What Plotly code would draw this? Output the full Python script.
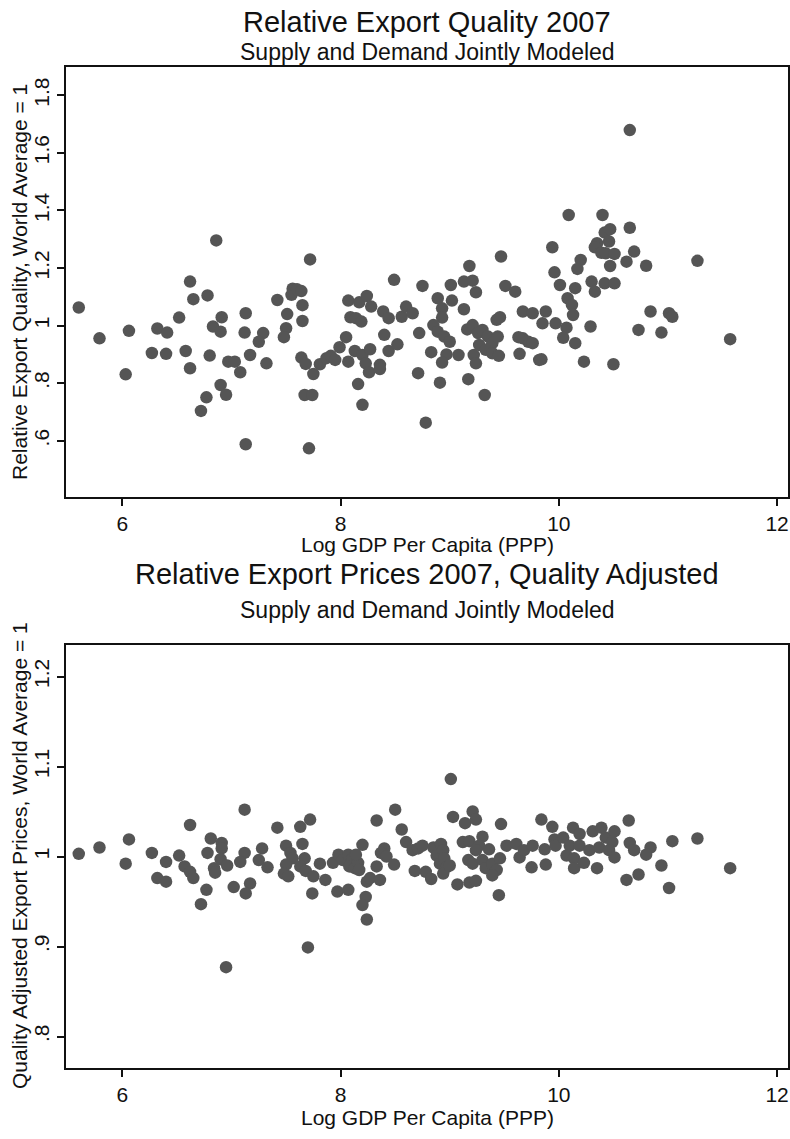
import plotly.graph_objects as go

# ---------------- data ----------------
top_x = [5.60, 5.79, 6.06, 6.03, 6.32, 6.41, 6.27, 6.40, 6.52, 6.62, 6.65, 6.58, 6.62, 6.78, 6.86,
         6.83, 6.90, 6.91, 6.80, 6.97, 7.03, 6.90, 6.95, 6.77, 6.72, 7.13, 7.12, 7.08, 7.17, 7.13,
         7.29, 7.25, 7.32,
         7.42, 7.51, 7.50, 7.48, 7.56, 7.55, 7.60, 7.64, 7.65, 7.65, 7.72, 7.64, 7.68, 7.75, 7.67,
         7.74, 7.71, 7.81, 7.87, 7.91, 7.95, 7.99,
         8.05, 8.07, 8.07, 8.09, 8.14, 8.19, 8.17, 8.24, 8.28, 8.13, 8.20, 8.27, 8.23, 8.26, 8.16,
         8.20, 8.36, 8.36, 8.39, 8.44, 8.40, 8.44, 8.52, 8.49, 8.56, 8.60, 8.66, 8.71, 8.72, 8.75,
         8.78, 8.83, 8.91,
         8.89, 8.93, 8.93, 8.85, 8.89, 8.95, 9.00, 8.97, 8.93, 9.01, 9.02, 9.08, 9.13, 9.18, 9.21,
         9.24, 9.13, 9.16, 9.21, 9.26, 9.22, 9.24, 9.17, 9.32,
         9.30, 9.35, 9.39, 9.44, 9.27, 9.33, 9.39, 9.45, 9.43, 9.46,
         9.47, 9.51, 9.60, 9.67, 9.76, 9.67, 9.72, 9.76, 9.63, 9.64, 9.82,
         10.09, 10.40, 10.42, 10.47, 10.65, 9.94, 10.35, 10.33, 10.39, 10.43, 10.51, 10.46, 10.69,
         10.62, 10.47, 10.80, 11.27, 10.20, 10.17, 9.96, 10.01, 10.15, 10.30, 10.42, 10.51, 10.33,
         10.08, 10.12, 10.13, 9.88, 9.85, 9.97, 10.07, 10.04, 10.29, 10.15, 9.84, 10.23, 10.50,
         10.84, 11.01, 11.04, 10.73, 10.94, 11.57, 10.65]
top_y = [1.063, 0.956, 0.982, 0.831, 0.990, 0.976, 0.905, 0.902, 1.028, 1.153, 1.092, 0.912, 0.852, 1.105, 1.296,
         0.997, 0.979, 1.029, 0.896, 0.875, 0.875, 0.794, 0.760, 0.751, 0.704, 1.043, 0.976, 0.838, 0.898, 0.588,
         0.974, 0.944, 0.869,
         1.089, 1.040, 0.991, 0.960, 1.128, 1.107, 1.126, 1.120, 1.071, 1.016, 1.230, 0.889, 0.867, 0.832, 0.759,
         0.759, 0.574, 0.866, 0.887, 0.895, 0.881, 0.925,
         0.960, 0.875, 1.087, 1.029, 1.026, 1.014, 1.081, 1.103, 1.066, 0.912, 0.898, 0.918, 0.869, 0.838, 0.797,
         0.725, 0.864, 0.849, 1.049, 1.026, 0.968, 0.912, 0.935, 1.159, 1.031, 1.066, 1.043, 0.835, 0.974, 1.138,
         0.663, 0.908, 0.802,
         1.095, 1.060, 1.028, 1.002, 0.979, 0.962, 0.944, 0.900, 0.872, 1.141, 1.087, 0.898, 1.153, 1.207, 1.156,
         1.116, 1.057, 0.987, 1.002, 0.974, 0.898, 0.869, 0.814, 0.759,
         0.985, 0.962, 0.939, 0.962, 0.933, 0.916, 0.904, 0.895, 1.020, 1.029,
         1.240, 1.138, 1.118, 1.049, 1.043, 0.956, 0.944, 0.939, 0.960, 0.902, 0.881,
         1.384, 1.384, 1.323, 1.335, 1.340, 1.272, 1.286, 1.272, 1.253, 1.251, 1.249, 1.292, 1.257,
         1.222, 1.207, 1.208, 1.225, 1.228, 1.197, 1.185, 1.141, 1.130, 1.153, 1.147, 1.147, 1.118,
         1.095, 1.072, 1.037, 1.049, 1.008, 1.008, 0.993, 0.958, 0.997, 0.939, 0.883, 0.875, 0.866,
         1.049, 1.043, 1.031, 0.985, 0.976, 0.953, 1.679]

bot_x = [5.60, 5.79, 6.06, 6.03, 6.27, 6.40, 6.32, 6.40, 6.52, 6.62, 6.57, 6.62, 6.65, 6.72, 6.77,
         6.78, 6.81, 6.91, 6.91, 6.84, 6.85, 6.90, 6.96, 6.95, 7.12, 7.12, 7.08, 7.02, 7.17, 7.13,
         7.28, 7.25, 7.33, 7.42, 7.50, 7.54, 7.56, 7.50, 7.48, 7.52, 7.63, 7.72, 7.65, 7.67, 7.63,
         7.68, 7.75, 7.74, 7.81, 7.86, 7.70, 7.97, 8.07,
         7.93, 7.98, 8.02, 8.07, 8.11, 8.08, 8.13, 8.16, 8.17, 8.14,
         8.20, 8.24, 8.27, 8.23, 8.20, 8.24, 8.33, 8.33, 8.36, 8.40, 8.37, 8.42, 8.49, 8.50, 8.56,
         8.60, 8.66, 8.71, 8.68,
         8.75, 8.78, 8.83, 8.85, 8.88, 8.92, 8.94, 8.91, 8.95, 8.97, 8.94, 9.00, 9.03, 9.01, 9.14,
         9.21, 9.24, 9.12, 9.18, 9.30, 9.27, 9.24, 9.36, 9.17, 9.21, 9.30, 9.33, 9.39, 9.43, 9.46,
         9.39, 9.07, 9.18, 9.24, 9.45, 9.47, 9.52, 9.61, 9.64, 9.68, 9.76, 9.87, 9.75, 9.88, 9.84,
         9.94, 9.96, 9.97, 10.04, 10.13, 10.19, 10.10, 10.07, 10.14, 10.19, 10.14, 10.23, 10.35,
         10.28, 10.31, 10.39, 10.43, 10.51, 10.49, 10.37, 10.46, 10.51, 10.64, 10.65, 10.69, 10.84,
         10.80, 10.94, 11.04, 11.27, 10.62, 10.73, 11.01, 11.57]
bot_y = [1.003, 1.010, 1.019, 0.992, 1.004, 0.994, 0.976, 0.972, 1.001, 1.035, 0.989, 0.983, 0.976, 0.947, 0.963,
         1.004, 1.020, 1.015, 1.009, 0.987, 0.982, 0.997, 0.990, 0.877, 1.052, 1.004, 0.994, 0.966, 0.970, 0.959,
         1.009, 0.996, 0.988, 1.032, 1.012, 1.004, 0.998, 0.991, 0.981, 0.978, 1.033, 1.041, 1.014, 0.998, 0.989,
         0.984, 0.978, 0.959, 0.992, 0.974, 0.899, 0.961, 0.963,
         0.993, 1.002, 0.996, 1.002, 0.998, 0.989, 0.987, 0.993, 0.985, 1.002,
         1.013, 0.972, 0.976, 0.955, 0.946, 0.930, 1.040, 0.989, 0.974, 1.009, 1.004, 1.000, 0.991, 1.052, 1.030,
         1.016, 1.007, 1.009, 0.984,
         1.012, 0.983, 0.975, 1.010, 1.001, 1.014, 1.007, 0.992, 0.998, 0.988, 0.981, 0.990, 1.044, 1.086, 1.037,
         1.050, 1.041, 1.016, 1.017, 1.022, 1.012, 1.007, 1.008, 0.996, 0.992, 0.996, 0.987, 0.992, 0.985, 0.998,
         0.979, 0.969, 0.971, 0.973, 0.957, 1.036, 1.012, 1.014, 0.999, 1.007, 1.012, 1.008, 0.988, 0.991, 1.041,
         1.033, 1.019, 1.012, 1.021, 1.032, 1.025, 1.012, 1.001, 0.998, 1.012, 0.987, 0.993, 0.987,
         1.007, 1.028, 1.032, 1.021, 1.028, 1.016, 1.010, 1.007, 0.999, 1.040, 1.015, 1.007, 1.010,
         1.002, 0.990, 1.017, 1.020, 0.974, 0.980, 0.965, 0.987]

x_ticks = [6, 8, 10, 12]
top_yticks = [0.6, 0.8, 1.0, 1.2, 1.4, 1.6, 1.8]
top_yticktext = [".6", ".8", "1", "1.2", "1.4", "1.6", "1.8"]
bot_yticks = [0.8, 0.9, 1.0, 1.1, 1.2]
bot_yticktext = [".8", ".9", "1", "1.1", "1.2"]

# ---------------- layout helpers (positions in window pixels) ----------------
W, H = 790, 1139
FONT = "Liberation Sans, Arial, Helvetica, sans-serif"
DOT = "#555555"
INK = "#111111"


def px(p):
    return p / W


def py(p):
    return 1 - p / H


fig = go.Figure()
fig.add_trace(go.Scatter(x=top_x, y=top_y, mode="markers", xaxis="x", yaxis="y",
                         marker=dict(size=12.5, color=DOT), showlegend=False, hoverinfo="skip"))
fig.add_trace(go.Scatter(x=bot_x, y=bot_y, mode="markers", xaxis="x2", yaxis="y2",
                         marker=dict(size=12.5, color=DOT), showlegend=False, hoverinfo="skip"))

common = dict(showline=True, linecolor=INK, linewidth=1.6, mirror=True,
              ticks="outside", ticklen=7, tickwidth=1.6, tickcolor=INK,
              showgrid=False, zeroline=False,
              tickfont=dict(family=FONT, size=21, color=INK))

PL, PR = 66, 788
fig.update_layout(
    width=W, height=H, margin=dict(l=0, r=0, t=0, b=0),
    paper_bgcolor="white", plot_bgcolor="white",
    xaxis=dict(domain=[px(PL), px(PR)], range=[5.483, 12.1], tickvals=x_ticks,
               anchor="y", **common),
    yaxis=dict(domain=[py(497), py(67)], range=[0.405, 1.898], tickvals=top_yticks,
               ticktext=top_yticktext, tickangle=-90, anchor="x", **common),
    xaxis2=dict(domain=[px(PL), px(PR)], range=[5.483, 12.1], tickvals=x_ticks,
                anchor="y2", **common),
    yaxis2=dict(domain=[py(1068), py(645)], range=[0.765, 1.235], tickvals=bot_yticks,
                ticktext=bot_yticktext, tickangle=-90, anchor="x2", **common),
)

cx = px((PL + PR) / 2)
texts = [
    ("Relative Export Quality 2007", cx, 22, 29, 0),
    ("Supply and Demand Jointly Modeled", cx, 52, 23, 0),
    ("Log GDP Per Capita (PPP)", cx, 544, 21, 0),
    ("Relative Export Quality, World Average = 1", px(19), 282, 21, -90),
    ("Relative Export Prices 2007, Quality Adjusted", cx, 574, 29, 0),
    ("Supply and Demand Jointly Modeled", cx, 610, 23, 0),
    ("Log GDP Per Capita (PPP)", cx, 1117, 21, 0),
    ("Quality Adjusted Export Prices, World Average = 1", px(19), 856, 21, -90),
]
for t, x, y, s, ang in texts:
    fig.add_annotation(text=t, x=x, y=py(y), xref="paper", yref="paper",
                       xanchor="center", yanchor="middle", showarrow=False,
                       textangle=ang, font=dict(family=FONT, size=s, color=INK))

# remove the default page margin so the figure fills the 790x1139 window exactly
fig.write_html("out.html",
               config={"displayModeBar": False},
               post_script="document.body.style.margin='0px';"
                           "document.documentElement.style.overflow='hidden';"
                           "document.body.style.overflow='hidden';")
